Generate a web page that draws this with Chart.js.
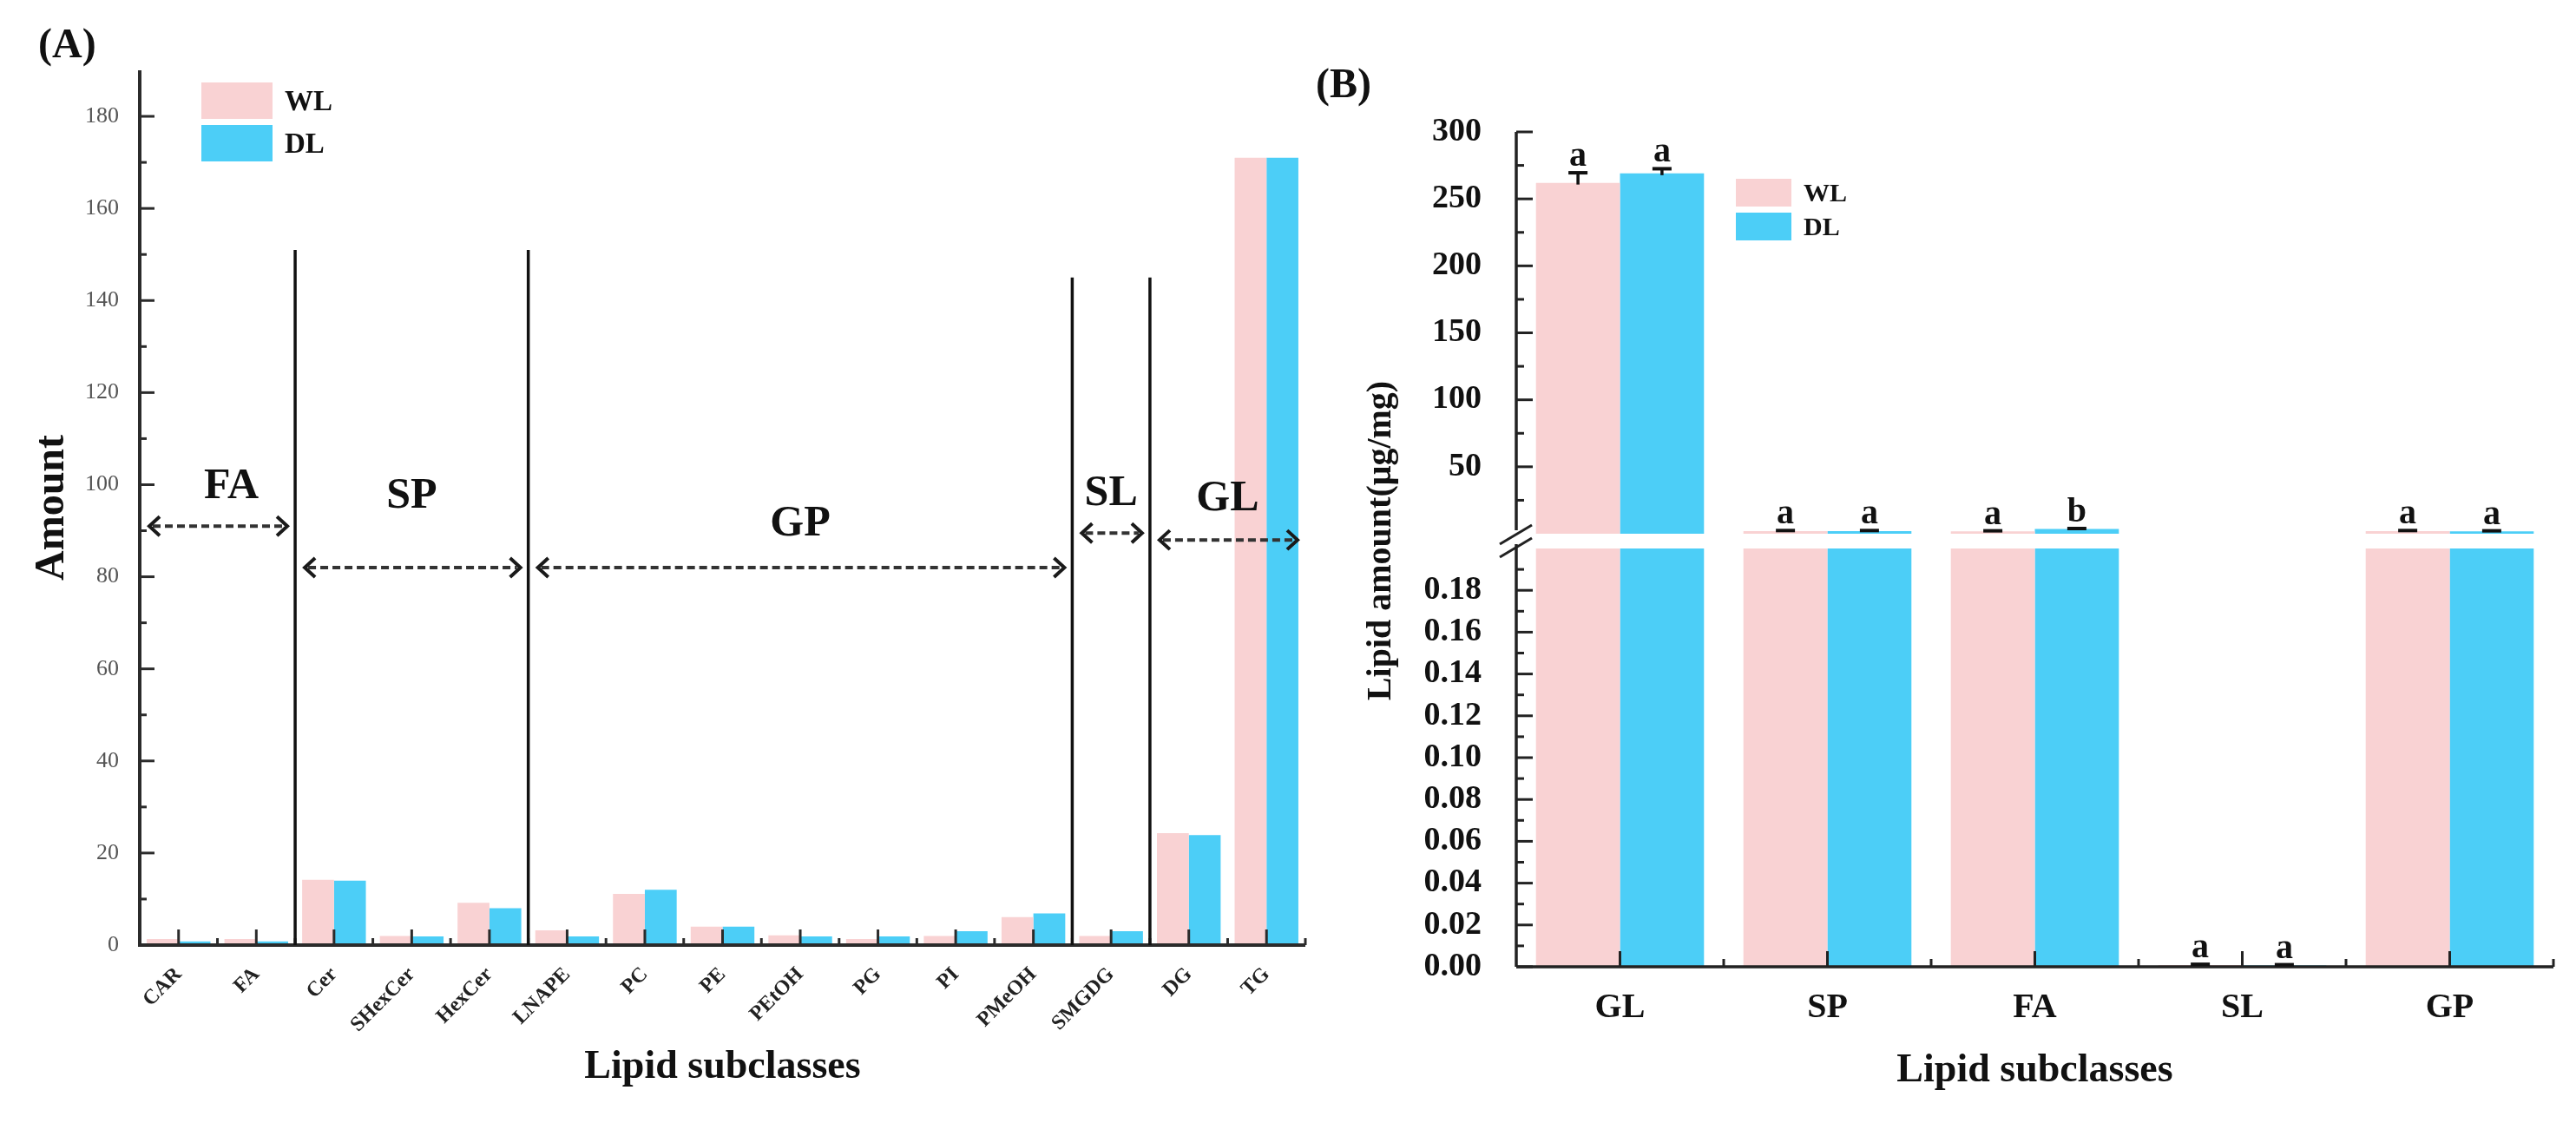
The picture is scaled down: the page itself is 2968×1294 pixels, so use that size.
<!DOCTYPE html>
<html>
<head>
<meta charset="utf-8">
<script src="https://cdn.jsdelivr.net/npm/chart.js@4.4.0/dist/chart.umd.min.js"></script>
<style>
html, body { margin: 0; padding: 0; background: #fff; }
body { width: 2968px; height: 1294px; position: relative; overflow: hidden; }
#wrapA { position: absolute; left: 0; top: 0; width: 1540px; height: 1294px; }
#wrapB { position: absolute; left: 1500px; top: 0; width: 1468px; height: 1294px; }
</style>
</head>
<body>
<div id="wrapA"><canvas id="chartA"></canvas></div>
<div id="wrapB"><canvas id="chartB"></canvas></div>
<script>
// ---- panel A: lipid subclasses ----
const subclasses = ['CAR', 'FA', 'Cer', 'SHexCer', 'HexCer', 'LNAPE', 'PC', 'PE', 'PEtOH', 'PG', 'PI', 'PMeOH', 'SMGDG', 'DG', 'TG'];
const amountWL = [1.3, 1.3, 14.2, 2.0, 9.2, 3.2, 11.1, 4.0, 2.1, 1.3, 2.0, 6.1, 2.0, 24.3, 171];
const amountDL = [0.8, 0.8, 14.0, 1.9, 8.0, 1.9, 12.0, 4.0, 1.9, 1.9, 3.0, 6.9, 3.0, 23.9, 171];
const amountTicks = [0, 20, 40, 60, 80, 100, 120, 140, 160, 180];

const groupNames = ['FA', 'SP', 'GP', 'SL', 'GL'];
const groupFirst = [0, 2, 5, 12, 13];
const groupLast = [1, 4, 11, 12, 14];

// ---- panel B: lipid classes ----
const classes = ['GL', 'SP', 'FA', 'SL', 'GP'];
const lipidWL = [262, 2.0, 1.8, 0.0008, 2.0];
const lipidDL = [269, 2.0, 3.5, 0.0006, 1.8];
const errWL = [7.5, 0.4, 0.4, 0.0004, 0.4];
const errDL = [3.5, 0.4, 0.4, 0.0004, 0.4];
const sigWL = ['a', 'a', 'a', 'a', 'a'];
const sigDL = ['a', 'a', 'b', 'a', 'a'];
const upperTicks = [50, 100, 150, 200, 250, 300];
const lowerTicks = [0, 0.02, 0.04, 0.06, 0.08, 0.10, 0.12, 0.14, 0.16, 0.18];
const lowerMax = 0.2;

const SERIF = "'Liberation Serif', 'Times New Roman', serif";
const PINK = '#f9d2d3';
const BLUE = '#4ccef7';

function seg(ctx, x1, y1, x2, y2) {
    ctx.beginPath();
    ctx.moveTo(x1, y1);
    ctx.lineTo(x2, y2);
    ctx.stroke();
}

function dashedArrow(ctx, x1, x2, y) {
    ctx.save();
    ctx.strokeStyle = '#333';
    ctx.lineWidth = 4;
    ctx.setLineDash([9, 5]);
    seg(ctx, x1 + 4, y, x2 - 4, y);
    ctx.setLineDash([]);
    ctx.strokeStyle = '#1a1a1a';
    ctx.beginPath();
    ctx.moveTo(x1 + 12, y - 11); ctx.lineTo(x1, y); ctx.lineTo(x1 + 12, y + 11);
    ctx.moveTo(x2 - 12, y - 11); ctx.lineTo(x2, y); ctx.lineTo(x2 - 12, y + 11);
    ctx.stroke();
    ctx.restore();
}

function legendBox(ctx, left, top, w, h, labels, font) {
    [PINK, BLUE].forEach((c, i) => {
        ctx.fillStyle = c;
        ctx.fillRect(left, top + i * (h + 7), w, h);
        ctx.fillStyle = '#111';
        ctx.font = font;
        ctx.textAlign = 'left';
        ctx.textBaseline = 'middle';
        ctx.fillText(labels[i], left + w + 14, top + i * (h + 7) + h / 2 + 2);
    });
}

const panelA = {
    id: 'panelA',
    afterDatasetsDraw(chart) {
        const { ctx, chartArea: ca, scales: { x, y } } = chart;
        const half = (x.getPixelForValue(1) - x.getPixelForValue(0)) / 2;
        ctx.save();
        ctx.strokeStyle = '#2b2b2b';
        ctx.lineWidth = 4;
        ctx.beginPath();
        ctx.moveTo(ca.left, ca.top);
        ctx.lineTo(ca.left, ca.bottom);
        ctx.lineTo(ca.right, ca.bottom);
        ctx.stroke();

        // inward ticks
        ctx.lineWidth = 3;
        amountTicks.forEach(v => {
            const py = y.getPixelForValue(v);
            seg(ctx, ca.left, py, ca.left + 17, py);
            if (v + 10 < y.max) {
                const pm = y.getPixelForValue(v + 10);
                seg(ctx, ca.left, pm, ca.left + 8, pm);
            }
        });
        subclasses.forEach((s, i) => {
            const px = x.getPixelForValue(i);
            seg(ctx, px, ca.bottom, px, ca.bottom - 18);
            seg(ctx, px + half, ca.bottom, px + half, ca.bottom - 8);
        });

        // group dividers, arrows and names
        const divTop = [151, 151, 145, 145];
        const arrowAt = [91, 82, 82, 89.5, 88];
        const nameAt = [97, 95, 89, 95.5, 94.5];
        ctx.strokeStyle = '#111';
        ctx.lineWidth = 3.5;
        for (let g = 0; g < groupNames.length - 1; g++) {
            const bx = x.getPixelForValue(groupLast[g]) + half;
            seg(ctx, bx, y.getPixelForValue(divTop[g]), bx, ca.bottom);
        }
        groupNames.forEach((name, g) => {
            const left = g === 0 ? ca.left : x.getPixelForValue(groupFirst[g]) - half;
            const right = g === groupNames.length - 1 ? ca.right : x.getPixelForValue(groupLast[g]) + half;
            dashedArrow(ctx, left + 11, right - 9, y.getPixelForValue(arrowAt[g]));
            ctx.fillStyle = '#111';
            ctx.font = 'bold 50px ' + SERIF;
            ctx.textAlign = 'center';
            ctx.textBaseline = 'alphabetic';
            ctx.fillText(name, (left + right) / 2 + (g === 0 ? 16 : 0), y.getPixelForValue(nameAt[g]));
        });

        legendBox(ctx, 232, 95, 82, 42, ['WL', 'DL'], 'bold 33px ' + SERIF);

        ctx.fillStyle = '#111';
        ctx.font = 'bold 48px ' + SERIF;
        ctx.textAlign = 'left';
        ctx.textBaseline = 'middle';
        ctx.fillText('(A)', 44, 54);
        ctx.restore();
    }
};

new Chart(document.getElementById('chartA'), {
    type: 'bar',
    data: {
        labels: subclasses,
        datasets: [
            { label: 'WL', data: amountWL, backgroundColor: PINK },
            { label: 'DL', data: amountDL, backgroundColor: BLUE }
        ]
    },
    options: {
        responsive: true,
        maintainAspectRatio: false,
        animation: false,
        layout: { padding: { top: 81, right: 36, left: 0, bottom: 0 } },
        datasets: { bar: { categoryPercentage: 0.82, barPercentage: 1 } },
        plugins: { legend: { display: false }, tooltip: { enabled: false } },
        scales: {
            x: {
                grid: { display: false, drawTicks: false },
                border: { display: false },
                ticks: {
                    autoSkip: false, maxRotation: 45, minRotation: 45, padding: 20,
                    color: '#222', font: { family: SERIF, size: 24, weight: 'bold' }
                },
                title: {
                    display: true, text: 'Lipid subclasses', color: '#111',
                    font: { family: SERIF, size: 46, weight: 'bold' }, padding: { top: 0, bottom: 36 }
                },
                afterFit: s => { s.height = 205; }
            },
            y: {
                min: 0, max: 190,
                grid: { display: false, drawTicks: false },
                border: { display: false },
                afterBuildTicks: s => { s.ticks = amountTicks.map(v => ({ value: v })); },
                ticks: { autoSkip: false, padding: 24, color: '#555', font: { family: SERIF, size: 26 } },
                title: {
                    display: true, text: 'Amount', color: '#111',
                    font: { family: SERIF, size: 48, weight: 'bold' }, padding: { top: 32, bottom: 0 }
                },
                afterFit: s => { s.width = 161; }
            }
        }
    },
    plugins: [panelA]
});

// ---- panel B ----
const clampLow = v => Math.min(v, lowerMax);

const panelB = {
    id: 'panelB',
    afterDatasetsDraw(chart) {
        const { ctx, chartArea: ca, scales: { x, yTop, yLow } } = chart;
        const half = (x.getPixelForValue(1) - x.getPixelForValue(0)) / 2;
        const ax = ca.left;
        const breakTop = yTop.getPixelForValue(0);
        const breakLow = yLow.getPixelForValue(lowerMax);
        ctx.save();
        ctx.strokeStyle = '#222';
        ctx.lineWidth = 3.5;
        seg(ctx, ax, yTop.getPixelForValue(300), ax, breakTop - 4);
        seg(ctx, ax, breakLow - 5, ax, yLow.getPixelForValue(0));
        seg(ctx, ax, yLow.getPixelForValue(0), ca.right, yLow.getPixelForValue(0));

        // break marks
        ctx.lineWidth = 3;
        seg(ctx, ax - 19, breakTop + 12, ax + 18, breakTop - 10);
        seg(ctx, ax - 19, breakTop + 27, ax + 18, breakTop + 5);

        ctx.lineWidth = 3;
        upperTicks.forEach(v => {
            const py = yTop.getPixelForValue(v);
            seg(ctx, ax, py, ax + 19, py);
            const pm = yTop.getPixelForValue(v - 25);
            seg(ctx, ax, pm, ax + 9, pm);
        });
        lowerTicks.forEach(v => {
            const py = yLow.getPixelForValue(v);
            seg(ctx, ax, py, ax + 19, py);
            const pm = yLow.getPixelForValue(v + 0.01);
            seg(ctx, ax, pm, ax + 9, pm);
        });
        const base = yLow.getPixelForValue(0);
        classes.forEach((c, i) => {
            const px = x.getPixelForValue(i);
            seg(ctx, px, base, px, base - 18);
            seg(ctx, px + half, base, px + half, base - 9);
        });

        // error bars and letters
        const series = [[lipidWL, errWL, sigWL, 0], [lipidDL, errDL, sigDL, 1]];
        series.forEach(([vals, errs, sigs, di]) => {
            const meta = chart.getDatasetMeta(di);
            vals.forEach((v, i) => {
                const bx = meta.data[i].x;
                const sc = v > lowerMax ? yTop : yLow;
                const pTop = sc.getPixelForValue(v + errs[i]);
                const pVal = sc.getPixelForValue(v);
                ctx.strokeStyle = '#111';
                ctx.lineWidth = 3.5;
                if (pVal - pTop > 4) seg(ctx, bx, pVal + 2, bx, pTop);
                ctx.lineWidth = 4;
                seg(ctx, bx - 11, pTop, bx + 11, pTop);
                ctx.fillStyle = '#111';
                ctx.font = 'bold 40px ' + SERIF;
                ctx.textAlign = 'center';
                ctx.textBaseline = 'alphabetic';
                ctx.fillText(sigs[i], bx, pTop - 8);
            });
        });

        legendBox(ctx, 500, 206, 64, 32, ['WL', 'DL'], 'bold 30px ' + SERIF);

        ctx.fillStyle = '#111';
        ctx.font = 'bold 48px ' + SERIF;
        ctx.textAlign = 'left';
        ctx.textBaseline = 'middle';
        ctx.fillText('(B)', 16, 100);

        ctx.translate(92, 623);
        ctx.rotate(-Math.PI / 2);
        ctx.font = 'bold 40px ' + SERIF;
        ctx.textAlign = 'center';
        ctx.fillText('Lipid amount(μg/mg)', 0, 0);
        ctx.restore();
    }
};

new Chart(document.getElementById('chartB'), {
    type: 'bar',
    data: {
        labels: classes,
        datasets: [
            { label: 'WL', data: lipidWL, backgroundColor: PINK, yAxisID: 'yTop', stack: 'WL' },
            { label: 'DL', data: lipidDL, backgroundColor: BLUE, yAxisID: 'yTop', stack: 'DL' },
            { label: 'WL', data: lipidWL.map(clampLow), backgroundColor: PINK, yAxisID: 'yLow', stack: 'WL' },
            { label: 'DL', data: lipidDL.map(clampLow), backgroundColor: BLUE, yAxisID: 'yLow', stack: 'DL' }
        ]
    },
    options: {
        responsive: true,
        maintainAspectRatio: false,
        animation: false,
        layout: { padding: { top: 152, right: 26, left: 0, bottom: 0 } },
        datasets: { bar: { categoryPercentage: 0.81, barPercentage: 1 } },
        plugins: { legend: { display: false }, tooltip: { enabled: false } },
        scales: {
            x: {
                grid: { display: false, drawTicks: false },
                border: { display: false },
                ticks: { maxRotation: 0, padding: 24, color: '#111', font: { family: SERIF, size: 40, weight: 'bold' } },
                title: {
                    display: true, text: 'Lipid subclasses', color: '#111',
                    font: { family: SERIF, size: 46, weight: 'bold' }, padding: { top: 0, bottom: 32 }
                },
                afterFit: s => { s.height = 180; }
            },
            yLow: {
                type: 'linear', position: 'left', stack: 'lipid', stackWeight: 482,
                min: 0, max: lowerMax, stacked: false,
                grid: { display: false, drawTicks: false },
                border: { display: false },
                afterBuildTicks: s => { s.ticks = lowerTicks.map(v => ({ value: v })); },
                ticks: {
                    autoSkip: false, padding: 40, color: '#111', font: { family: SERIF, size: 38, weight: 'bold' },
                    callback: v => Number(v).toFixed(2)
                },
                afterFit: s => { s.width = 247; }
            },
            yTop: {
                type: 'linear', position: 'left', stack: 'lipid', stackWeight: 480,
                min: -11, max: 300, stacked: false,
                grid: { display: false, drawTicks: false },
                border: { display: false },
                afterBuildTicks: s => { s.ticks = upperTicks.map(v => ({ value: v })); },
                ticks: { autoSkip: false, padding: 40, color: '#111', font: { family: SERIF, size: 38, weight: 'bold' } },
                afterFit: s => { s.width = 247; }
            }
        }
    },
    plugins: [panelB]
});
</script>
</body>
</html>
